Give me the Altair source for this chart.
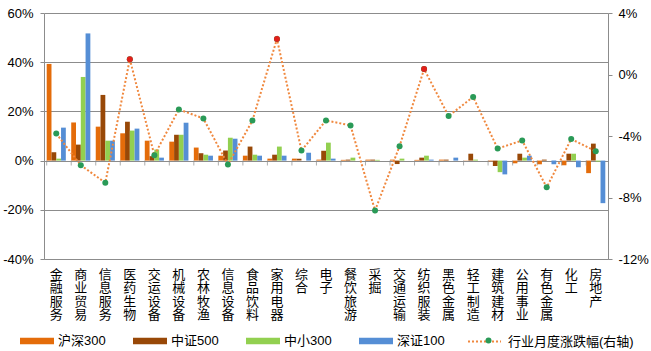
import altair as alt
import pandas as pd

categories = ['金融服务', '商业贸易', '信息服务', '医药生物', '交运设备', '机械设备', '农林牧渔',
              '信息设备', '食品饮料', '家用电器', '综合', '电子', '餐饮旅游', '采掘', '交通运输',
              '纺织服装', '黑色金属', '轻工制造', '建筑建材', '公用事业', '有色金属', '化工', '房地产']
series_names = ['沪深300', '中证500', '中小300', '深证100']
hs300 = [39.3, 15.5, 13.8, 11.1, 8.1, 7.7, 5.3, 2.0, 2.0, 0.8, 0.8, 0.4, 0.3, 0.4, 0.4, 0.3, 0.4, 0.1, -0.3, -1.1, -1.5, -1.9, -5.1]
zz500 = [3.4, 6.5, 26.7, 15.8, 1.8, 10.5, 3.0, 4.1, 5.7, 2.4, 0.8, 4.0, 0.4, 0.4, -1.4, 1.2, 0.4, 2.8, -2.2, 2.8, 0.4, 2.8, 6.9]
zx300 = [0.8, 34.0, 8.1, 12.2, 4.5, 10.5, 2.4, 9.3, 2.4, 5.7, 0.0, 7.3, 1.2, 0.3, 0.8, 2.0, 0.0, 0.4, -4.7, 1.2, 0.0, 2.8, -0.4]
sz100 = [13.4, 51.7, 8.1, 13.0, 1.2, 15.4, 2.0, 8.9, 2.0, 2.0, 3.2, 0.8, 0.0, 0.0, 0.0, 0.4, 1.2, 0.0, -5.6, 2.0, -1.5, -2.7, -17.3]
line_name = '行业月度涨跌幅(右轴)'
industry_change = [-3.84, -5.9, -7.04, 1.0, -5.25, -2.27, -2.86, -5.86, -2.99, 2.31, -4.95, -2.99, -3.31,
                   -8.85, -4.66, 0.35, -2.7, -1.46, -4.82, -4.29, -7.34, -4.2, -4.99]
left_ticks = [-40, -20, 0, 20, 40, 60]
right_ticks = [-12, -8, -4, 0, 4]

bar_colors = ['#E46C0A', '#984807', '#92D050', '#558ED5']
LINE_COLOR = '#F0883E'
GREEN = '#2A9A57'
RED = '#E0201B'
GRID = '#8C8C8C'
FONT = 'Liberation Sans, Noto Sans CJK SC'

rows = []
for s, vals in zip(series_names, [hs300, zz500, zx300, sz100]):
    for c, v in zip(categories, vals):
        rows.append({'cat': c, 'series': s, 'value': v})
bars_df = pd.DataFrame(rows)
line_df = pd.DataFrame({'cat': categories, 'chg': industry_change,
                        'name': [line_name] * len(categories),
                        'marker': [line_name + ' '] * len(categories)})

xscale = alt.Scale(domain=categories, paddingInner=0.22, paddingOuter=0.11)
xaxis = alt.Axis(title=None, orient='bottom', labelAngle=0, labelExpr="split(datum.label, '')",
                 ticks=False, domainColor=GRID, labelFontSize=13, labelLineHeight=13.5,
                 labelBaseline='top', labelPadding=9, labelColor='black', labelFont=FONT,
                 labelOverlap=False, grid=False)
yaxis_left = alt.Axis(title=None, values=left_ticks, labelExpr="datum.value + '%'", grid=True,
                      gridColor=GRID, domainColor=GRID, tickColor=GRID, tickSize=4, labelPadding=7,
                      labelFontSize=13, labelColor='black', labelFont=FONT)
yaxis_right = alt.Axis(orient='right', title=None, values=right_ticks, labelExpr="datum.value + '%'",
                       grid=False, domainColor=GRID, tickColor=GRID, tickSize=4, labelPadding=6,
                       labelFontSize=13, labelColor='black', labelFont=FONT)
yscale_left = alt.Scale(domain=[-40, 60], nice=False)
yscale_right = alt.Scale(domain=[-12, 4], nice=False)

bars = alt.Chart(bars_df).mark_bar().encode(
    x=alt.X('cat:N', sort=categories, scale=xscale, axis=xaxis),
    xOffset=alt.XOffset('series:N', sort=series_names,
                        scale=alt.Scale(domain=series_names, paddingInner=0, paddingOuter=0)),
    y=alt.Y('value:Q', scale=yscale_left, axis=yaxis_left),
    color=alt.Color('series:N', scale=alt.Scale(domain=series_names, range=bar_colors),
                    legend=alt.Legend(orient='none', legendX=-24, legendY=311, direction='horizontal',
                                      title=None, symbolType='M-1,-0.19H1V0.19H-1Z', symbolSize=1156,
                                      symbolStrokeWidth=0, labelFontSize=13, labelFont=FONT,
                                      labelColor='black', columnPadding=27, labelOffset=4, padding=0,
                                      columns=4)),
)

ticks = alt.Chart(line_df).mark_tick(orient='vertical', size=5, thickness=1, color=GRID, yOffset=2.5).encode(
    x=alt.X('cat:N', sort=categories, bandPosition=0, scale=xscale, axis=xaxis),
    y=alt.YDatum(0, scale=yscale_left, axis=yaxis_left),
)

left = alt.layer(bars, ticks)

line = alt.Chart(line_df).mark_line(strokeDash=[2, 2], strokeWidth=2).encode(
    x=alt.X('cat:N', sort=categories, scale=xscale, axis=xaxis),
    y=alt.Y('chg:Q', scale=yscale_right, axis=yaxis_right),
    stroke=alt.Stroke('name:N', scale=alt.Scale(domain=[line_name], range=[LINE_COLOR]),
                      legend=alt.Legend(orient='none', legendX=423, legendY=311, title=None,
                                        symbolType='M-1,0H1', symbolSize=1089, symbolStrokeWidth=2,
                                        symbolDash=[2, 2], labelFontSize=13, labelFont=FONT,
                                        labelColor='black', labelOffset=6, padding=0)),
)

pts = alt.Chart(line_df).mark_circle(size=36, opacity=1).encode(
    x=alt.X('cat:N', sort=categories, scale=xscale, axis=xaxis),
    y=alt.Y('chg:Q', scale=yscale_right, axis=yaxis_right),
    fill=alt.Fill('marker:N', scale=alt.Scale(domain=[line_name + ' '], range=[GREEN]),
                  legend=alt.Legend(orient='none', legendX=438, legendY=321, title=None,
                                    symbolType='circle', symbolSize=36, labelExpr="''",
                                    labelFontSize=13, padding=0, symbolOpacity=1)),
)

red_pts = alt.Chart(line_df).transform_filter('datum.chg > 0').mark_circle(size=36, opacity=1, color=RED).encode(
    x=alt.X('cat:N', sort=categories, scale=xscale, axis=xaxis),
    y=alt.Y('chg:Q', scale=yscale_right, axis=yaxis_right),
)

right = alt.layer(line, pts, red_pts)

chart = alt.layer(left, right).resolve_scale(y='independent').properties(
    width=564, height=246,
    padding={'left': 44, 'top': 13, 'right': 43, 'bottom': 92},
    autosize=alt.AutoSizeParams(type='none'),
).configure(font=FONT).configure_view(stroke=None)

chart.save('out.html', embed_options={'renderer': 'svg', 'actions': False})
